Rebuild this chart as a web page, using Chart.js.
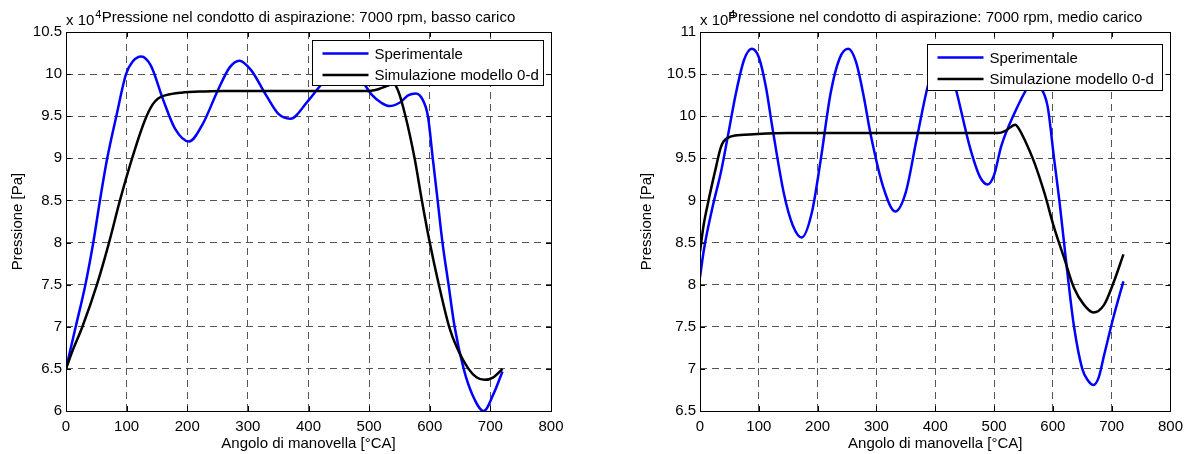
<!DOCTYPE html>
<html>
<head>
<meta charset="utf-8">
<script src="https://cdn.jsdelivr.net/npm/chart.js@4.4.1/dist/chart.umd.min.js"></script>
<style>
  body { margin: 0; background: #fff; }
  .wrap { position: absolute; top: 0; height: 454px; }
</style>
</head>
<body>
<div class="wrap" style="left:0;width:600px"><canvas id="chartBasso" width="600" height="454"></canvas></div>
<div class="wrap" style="left:600px;width:590px"><canvas id="chartMedio" width="590" height="454"></canvas></div>
<script>
// angles [°CA] and pressures [x 10^4 Pa]
const angBassoSper = [0, 8, 16, 32, 45, 56, 68, 83, 99, 110, 124, 140, 160, 180, 203, 225, 250, 270, 286, 305, 330, 350, 370, 399, 423, 450, 470, 490, 505, 520, 533, 550, 565, 577, 588, 597, 605, 613, 621, 631, 641, 656, 670, 689, 705, 720];
const pBassoSper = [6.5, 6.75, 7.0, 7.5, 8.0, 8.5, 9.0, 9.5, 10.0, 10.15, 10.21, 10.1, 9.7, 9.35, 9.2, 9.4, 9.8, 10.08, 10.16, 10.05, 9.75, 9.53, 9.47, 9.68, 9.89, 10.05, 10.06, 9.9, 9.75, 9.66, 9.62, 9.66, 9.75, 9.77, 9.7, 9.5, 9.0, 8.5, 8.0, 7.5, 7.0, 6.5, 6.2, 6.0, 6.2, 6.47];

const angBassoSim = [0, 10, 27, 51, 71, 89, 109, 130, 143, 152, 165, 190, 230, 260, 500, 515, 530, 540, 548, 560, 575, 587, 600, 615, 632, 645, 664, 677, 690, 705, 720];
const pBassoSim = [6.5, 6.7, 7.0, 7.5, 8.0, 8.5, 9.0, 9.45, 9.64, 9.71, 9.75, 9.78, 9.795, 9.8, 9.8, 9.82, 9.86, 9.89, 9.8, 9.5, 9.0, 8.5, 8.0, 7.5, 7.0, 6.75, 6.5, 6.4, 6.37, 6.4, 6.5];

const angMedioSper = [0, 7, 21, 36, 47, 61, 75, 88, 100, 112, 123, 143, 158, 173, 190, 205, 222, 237, 252, 265, 278, 290, 312, 332, 350, 369, 392, 410, 425, 434, 459, 476, 489, 500, 512, 535, 557, 568, 577, 591, 602, 611, 619, 627, 636, 650, 660, 669, 678, 687, 704, 720];
const pMedioSper = [8.09, 8.43, 8.91, 9.35, 9.75, 10.27, 10.67, 10.8, 10.7, 10.35, 9.87, 9.07, 8.7, 8.56, 8.85, 9.47, 10.27, 10.68, 10.8, 10.65, 10.25, 9.79, 9.15, 8.87, 9.1, 9.75, 10.47, 10.6, 10.55, 10.35, 9.63, 9.28, 9.19, 9.3, 9.64, 10.04, 10.34, 10.42, 10.36, 10.12, 9.5, 9.0, 8.5, 8.0, 7.5, 7.0, 6.86, 6.81, 6.9, 7.16, 7.64, 8.04];

const angMedioSim = [0, 6, 13, 27, 35, 40, 53, 75, 98, 150, 507, 520, 536, 544, 552, 569, 586, 602, 619, 636, 653, 669, 687, 704, 720];
const pMedioSim = [8.39, 8.7, 8.95, 9.39, 9.62, 9.7, 9.76, 9.78, 9.79, 9.8, 9.8, 9.83, 9.9, 9.83, 9.72, 9.44, 9.08, 8.68, 8.32, 7.96, 7.76, 7.67, 7.76, 8.04, 8.36];

const seriesNames = ["Sperimentale", "Simulazione modello 0-d"];
const seriesColors = ["#0000ff", "#000000"];

const FONT = "Arial, 'Liberation Sans', Helvetica, sans-serif";

function toPoints(xs, ys) {
    return xs.map((x, i) => ({ x: x, y: ys[i] }));
}

// axes box, inward ticks, "x 10^4" label and the legend (MATLAB look)
const matlabFrame = {
    id: "matlabFrame",
    afterDraw(chart, args, opts) {
        const ctx = chart.ctx;
        const a = chart.chartArea;
        const xs = chart.scales.x, ys = chart.scales.y;
        ctx.save();
        ctx.strokeStyle = "#000";
        ctx.lineWidth = 1;
        ctx.setLineDash([]);
        ctx.beginPath();
        xs.ticks.forEach(t => {
            const px = Math.round(xs.getPixelForValue(t.value)) + 0.5;
            ctx.moveTo(px, a.bottom); ctx.lineTo(px, a.bottom - 5);
            ctx.moveTo(px, a.top); ctx.lineTo(px, a.top + 5);
        });
        ys.ticks.forEach(t => {
            const py = Math.round(ys.getPixelForValue(t.value)) + 0.5;
            ctx.moveTo(a.left, py); ctx.lineTo(a.left + 5, py);
            ctx.moveTo(a.right, py); ctx.lineTo(a.right - 5, py);
        });
        ctx.stroke();
        ctx.strokeRect(Math.round(a.left) + 0.5, Math.round(a.top) + 0.5,
            Math.round(a.right - a.left), Math.round(a.bottom - a.top));

        // exponent label
        ctx.fillStyle = "#000";
        ctx.textBaseline = "alphabetic";
        ctx.textAlign = "left";
        ctx.font = "15px " + FONT;
        ctx.fillText("x 10", a.left, a.top - 7);
        const w = ctx.measureText("x 10").width;
        ctx.font = "11px " + FONT;
        ctx.fillText("4", a.left + w + 1, a.top - 14);

        // legend
        const bw = opts.w, bh = opts.h;
        const bx = Math.round(a.right - opts.right - bw) + 0.5, by = Math.round(a.top + opts.top) + 0.5;
        ctx.fillStyle = "#fff";
        ctx.fillRect(bx, by, bw, bh);
        ctx.strokeStyle = "#000";
        ctx.lineWidth = 1;
        ctx.strokeRect(bx, by, bw, bh);
        ctx.font = "15px " + FONT;
        ctx.textBaseline = "middle";
        chart.data.datasets.forEach((ds, i) => {
            const ry = by + 13 + i * 21.5;
            ctx.strokeStyle = ds.borderColor;
            ctx.lineWidth = 2.5;
            ctx.beginPath();
            ctx.moveTo(bx + 10, ry);
            ctx.lineTo(bx + 56, ry);
            ctx.stroke();
            ctx.fillStyle = "#000";
            ctx.fillText(ds.label, bx + 62, ry + 1);
        });
        ctx.restore();
    }
};

function makeChart(id, title, yMin, yMax, angSper, pSper, angSim, pSim, box) {
    const ctx = document.getElementById(id).getContext("2d");
    return new Chart(ctx, {
        type: "line",
        data: {
            datasets: [{
                label: seriesNames[0],
                data: toPoints(angSper, pSper),
                borderColor: seriesColors[0],
                borderWidth: 2.5,
                pointRadius: 0,
                fill: false,
                cubicInterpolationMode: "monotone",
                order: 1
            }, {
                label: seriesNames[1],
                data: toPoints(angSim, pSim),
                borderColor: seriesColors[1],
                borderWidth: 2.5,
                pointRadius: 0,
                fill: false,
                cubicInterpolationMode: "monotone",
                order: 0
            }]
        },
        options: {
            responsive: false,
            animation: false,
            devicePixelRatio: 1,
            layout: { padding: { left: 0, right: box.padRight, top: 0, bottom: 0 } },
            plugins: {
                legend: { display: false },
                tooltip: { enabled: false },
                title: {
                    display: true,
                    text: title,
                    fullSize: false,
                    color: "#000",
                    font: { family: FONT, size: 15, weight: "normal", lineHeight: 1.2 },
                    padding: { top: 9, bottom: 5 }
                },
                matlabFrame: { right: box.right, top: box.top, w: box.w, h: box.h }
            },
            scales: {
                x: {
                    type: "linear",
                    min: 0,
                    max: 800,
                    afterFit: s => { s.height = 43; },
                    ticks: { stepSize: 100, color: "#000", padding: 7, maxRotation: 0, font: { family: FONT, size: 15 } },
                    grid: { color: "#555", lineWidth: 1, drawTicks: false },
                    border: { display: false, dash: [7, 5] },
                    title: {
                        display: true,
                        text: "Angolo di manovella [°CA]",
                        color: "#000",
                        font: { family: FONT, size: 15, lineHeight: 1.2 },
                        padding: { top: 0, bottom: 1.5 }
                    }
                },
                y: {
                    min: yMin,
                    max: yMax,
                    afterFit: s => { s.width = box.yWidth; },
                    ticks: {
                        stepSize: 0.5,
                        color: "#000",
                        padding: 4,
                        font: { family: FONT, size: 15 },
                        callback: v => String(Math.round(v * 10) / 10)
                    },
                    grid: { color: "#555", lineWidth: 1, drawTicks: false },
                    border: { display: false, dash: [7, 5] },
                    title: {
                        display: true,
                        text: "Pressione [Pa]",
                        color: "#000",
                        font: { family: FONT, size: 15, lineHeight: 1.2 },
                        padding: { top: box.yTitlePad, bottom: 0 }
                    }
                }
            }
        },
        plugins: [matlabFrame]
    });
}

makeChart("chartBasso", "Pressione nel condotto di aspirazione: 7000 rpm, basso carico", 6, 10.5,
    angBassoSper, pBassoSper, angBassoSim, pBassoSim,
    { yWidth: 66, padRight: 49, yTitlePad: 8.5, right: 8, top: 8, w: 231, h: 45 });
makeChart("chartMedio", "Pressione nel condotto di aspirazione: 7000 rpm, medio carico", 6.5, 11,
    angMedioSper, pMedioSper, angMedioSim, pMedioSim,
    { yWidth: 100, padRight: 16, yTitlePad: 38, right: 8, top: 12, w: 235, h: 46 });
</script>
</body>
</html>
